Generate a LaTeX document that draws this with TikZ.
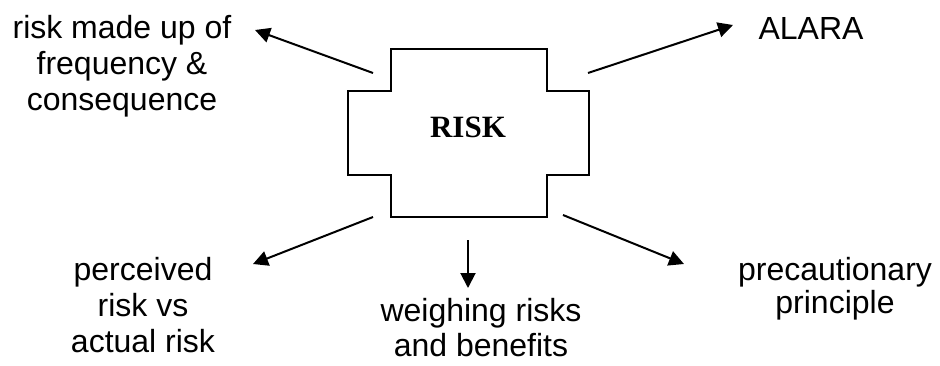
\documentclass[tikz,border=0pt]{standalone}
\usepackage{fontspec}
\setmainfont{Liberation Serif}
\setsansfont{Liberation Sans}
\usetikzlibrary{arrows.meta}

\begin{document}
\begin{tikzpicture}[x=1pt, y=-1pt,
    lbl/.style={align=center, inner sep=0pt, font=\sffamily\fontsize{32}{36}\selectfont},
    arr/.style={line width=2pt, -{Triangle[length=15pt,width=15pt]}}]
    \useasboundingbox (0,0) rectangle (940,365);

    % 十字の枠
    \draw[line width=2pt] (391,49) -- (547,49) -- (547,91) -- (589,91) -- (589,175)
        -- (547,175) -- (547,217) -- (391,217) -- (391,175) -- (348,175)
        -- (348,91) -- (391,91) -- cycle;
    \node[inner sep=0pt, font=\rmfamily\bfseries\fontsize{31}{36}\selectfont] (R) at (468,127) {RISK};

    % ラベル
    \node[lbl] (A) at (122,66) {risk made up of\\frequency \&\\consequence};
    \node[lbl] (B) at (811,28.5) {ALARA};
    \node[lbl] (C) at (143,305) {perceived\\risk vs\\actual risk};
    \node[lbl, font=\sffamily\fontsize{32}{35}\selectfont] (D) at (481,328) {weighing risks\\and benefits};
    \node[lbl, font=\sffamily\fontsize{32}{33}\selectfont] (E) at (835,288.5) {precautionary\\principle};

    % 矢印の端
    \coordinate (A1) at (373,73);  \coordinate (A2) at (255,30);
    \coordinate (B1) at (588,73);  \coordinate (B2) at (733,25);
    \coordinate (C1) at (373,217); \coordinate (C2) at (253,264);
    \coordinate (D1) at (468,240); \coordinate (D2) at (468,288);
    \coordinate (E1) at (563,215); \coordinate (E2) at (684,264);

    % 矢印を引く
    \draw[arr] (A1) -- (A2);
    \draw[arr] (B1) -- (B2);
    \draw[arr] (C1) -- (C2);
    \draw[arr] (D1) -- (D2);
    \draw[arr] (E1) -- (E2);

\end{tikzpicture}
\end{document}
